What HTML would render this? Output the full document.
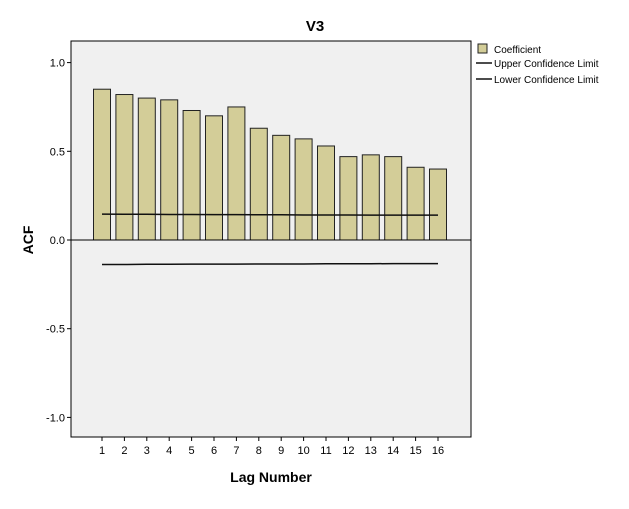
<!DOCTYPE html>
<html><head><meta charset="utf-8"><style>
body{margin:0;background:#fff;width:629px;height:504px;overflow:hidden;font-family:"Liberation Sans",sans-serif;}
</style></head><body>
<svg id="chart" width="629" height="504" xmlns="http://www.w3.org/2000/svg"></svg>
<script>
const lags=[1,2,3,4,5,6,7,8,9,10,11,12,13,14,15,16];
const coefficients=[0.85,0.82,0.80,0.79,0.73,0.70,0.75,0.63,0.59,0.57,0.53,0.47,0.48,0.47,0.41,0.40];
const upperLimit=[0.146,0.145,0.145,0.144,0.144,0.143,0.143,0.142,0.142,0.141,0.141,0.141,0.140,0.140,0.140,0.140];
const lowerLimit=[-0.138,-0.138,-0.137,-0.137,-0.136,-0.136,-0.136,-0.135,-0.135,-0.135,-0.134,-0.134,-0.134,-0.133,-0.133,-0.133];
const yTicks=[1.0,0.5,0.0,-0.5,-1.0];
const yTickLabels=["1.0","0.5","0.0","-0.5","-1.0"];
const NS="http://www.w3.org/2000/svg";
const svg=document.getElementById('chart');
const L=71,R=471,T=41,B=437;
const y=v=>240-v*177.4;
const x=l=>102+(l-1)*22.4;
function mk(t,a,p){const e=document.createElementNS(NS,t);for(const k in a)e.setAttribute(k,a[k]);(p||svg).appendChild(e);return e;}
let e;
e=mk('rect',{x:L,y:T,width:R-L,height:B-T,fill:'#f0f0f0',stroke:'#000','stroke-width':1});


e=mk('text',{x:315,y:31,'text-anchor':'middle','font-size':15,'font-weight':'bold'});e.textContent='V3';


yTicks.forEach((v,i)=>{
 mk('line',{x1:L-4,x2:L,y1:y(v),y2:y(v),stroke:'#000'});
 const t=mk('text',{x:L-6,y:y(v)+4,'text-anchor':'end','font-size':11});t.textContent=yTickLabels[i];
 
 
});
lags.forEach((l,i)=>{
 const r=mk('rect',{x:x(l)-8.5,y:y(coefficients[i]),width:17,height:y(0)-y(coefficients[i]),fill:'#d3cd98',stroke:'#222','stroke-width':1});
 
 
 mk('line',{x1:x(l),x2:x(l),y1:B,y2:B+4,stroke:'#000'});
 const t=mk('text',{x:x(l),y:B+17,'text-anchor':'middle','font-size':11});t.textContent=l;
 
 
});
e=mk('line',{x1:L,x2:R,y1:y(0),y2:y(0),stroke:'#000','stroke-width':1});


function pl(arr,name){
 const p=mk('polyline',{points:arr.map((v,i)=>x(lags[i])+','+y(v)).join(' '),fill:'none',stroke:'#111','stroke-width':1.5});
 
 
}
pl(upperLimit,'upper-confidence-line');
pl(lowerLimit,'lower-confidence-line');
e=mk('text',{x:271,y:482,'text-anchor':'middle','font-size':14,'font-weight':'bold'});e.textContent='Lag Number';


e=mk('text',{x:0,y:0,transform:'translate(33,240) rotate(-90)','text-anchor':'middle','font-size':14,'font-weight':'bold'});e.textContent='ACF';


e=mk('rect',{x:478,y:44,width:9,height:9,fill:'#d3cd98',stroke:'#222'});


e=mk('text',{x:494,y:53,'font-size':10});e.textContent='Coefficient';


[['Upper Confidence Limit',67,'legend-upper'],['Lower Confidence Limit',83,'legend-lower']].forEach(d=>{
 mk('line',{x1:476,x2:492,y1:d[1]-4,y2:d[1]-4,stroke:'#111','stroke-width':1.5});
 const t=mk('text',{x:494,y:d[1],'font-size':10});t.textContent=d[0];
 
 
});
</script>
</body></html>
